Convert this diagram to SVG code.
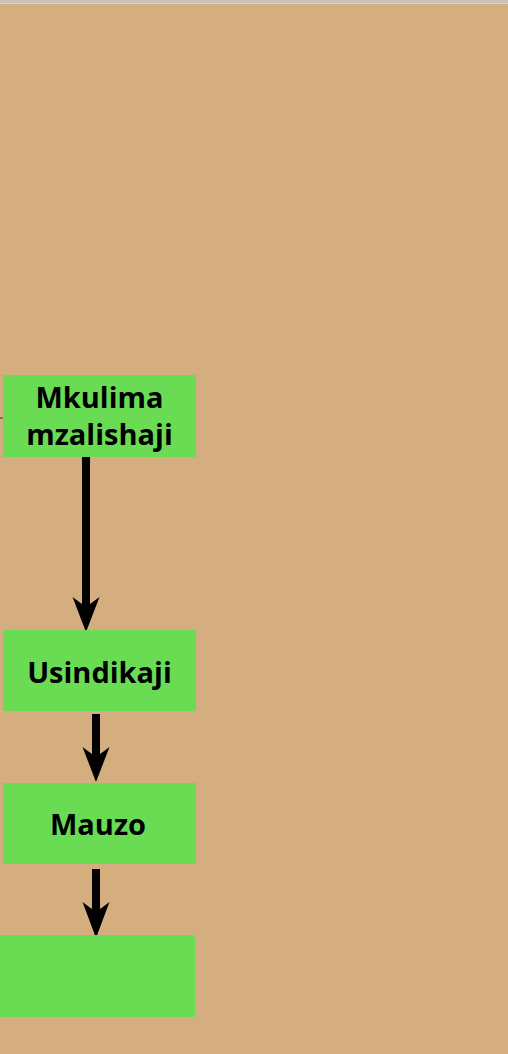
<svg xmlns="http://www.w3.org/2000/svg" width="508" height="1054" viewBox="0 0 508 1054">
<style>
.bg{fill:#D4AE7F}
.node{fill:#6ADC54}
.lbl{font-family:"Open Sans","Noto Sans",sans-serif;font-weight:700;font-size:29px;fill:#000;text-anchor:middle}
.shaft{stroke:#000;stroke-width:8;fill:none}
.head{fill:#000}
</style>
<rect x="0" y="0" width="508" height="1054" class="bg"/>
<rect x="0" y="0" width="508" height="3" fill="#C9C1B8"/>
<rect x="0" y="3" width="508" height="1" fill="#DCD2C8"/>
<g id="connectors">
<line x1="0" y1="418" x2="3" y2="418" stroke="#333" stroke-width="1"/>
<line class="shaft" x1="86" y1="455" x2="86" y2="612"/>
<path class="head" d="M86,632 L72.5,597 L86,607 L99.5,597 Z"/>
<line class="shaft" x1="96" y1="714" x2="96" y2="762"/>
<path class="head" d="M96,782 L82.5,747 L96,757 L109.5,747 Z"/>
<line class="shaft" x1="96" y1="869" x2="96" y2="918"/>
<path class="head" d="M96,938 L82.5,902 L96,912 L109.5,902 Z"/>
</g>
<g id="node-mkulima">
<rect class="node" x="3" y="375" width="193" height="82"/>
<text class="lbl" x="99.5" y="408">Mkulima</text>
<text class="lbl" x="99.5" y="445">mzalishaji</text>
</g>
<g id="node-usindikaji">
<rect class="node" x="3" y="630" width="193" height="81"/>
<text class="lbl" x="99.5" y="683">Usindikaji</text>
</g>
<g id="node-mauzo">
<rect class="node" x="3" y="783" width="193" height="81"/>
<text class="lbl" x="98" y="835">Mauzo</text>
</g>
<g id="node-empty">
<rect class="node" x="0" y="935" width="195" height="82"/>
</g>
</svg>
